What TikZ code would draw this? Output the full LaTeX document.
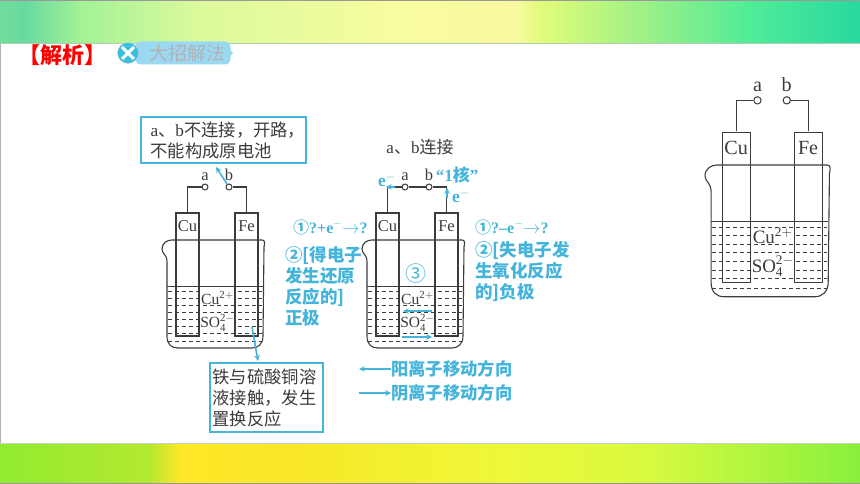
\documentclass[tikz,border=0pt]{standalone}
\usepackage{fontspec}
\setmainfont{Liberation Serif}
\newfontfamily\cjk{Noto Sans CJK SC}
\usetikzlibrary{positioning}
\definecolor{note}{HTML}{45B4DA}
\definecolor{ink}{HTML}{3C3C3C}
\definecolor{badge}{HTML}{9BD9F3}
\definecolor{green1}{HTML}{70DE9A}\definecolor{green2}{HTML}{68D9A0}\definecolor{green3}{HTML}{A4F296}
\definecolor{green4}{HTML}{DCFA9C}\definecolor{green5}{HTML}{F8FCA0}\definecolor{green6}{HTML}{F8F8A0}
\definecolor{green7}{HTML}{E0FC78}\definecolor{green8}{HTML}{98F088}\definecolor{green9}{HTML}{50EC98}
\definecolor{green10}{HTML}{28D8A0}
\definecolor{lime1}{HTML}{90EC30}\definecolor{lime2}{HTML}{B4E830}\definecolor{lime3}{HTML}{FFE828}
\definecolor{lime4}{HTML}{F8E828}\definecolor{lime5}{HTML}{EEF838}\definecolor{lime6}{HTML}{D8FA40}
\definecolor{lime7}{HTML}{88F03C}
\pgfdeclarehorizontalshading{topband}{100bp}{
	color(0bp)=(white); color(25bp)=(green1); color(26.5bp)=(green2); color(29.7bp)=(green3);
	color(36.6bp)=(green4); color(48.3bp)=(green5); color(55bp)=(green6); color(56.5bp)=(green7);
	color(62.8bp)=(green8); color(68.6bp)=(green9); color(75bp)=(green10); color(100bp)=(white)}
\pgfdeclarehorizontalshading{bottomband}{100bp}{
	color(0bp)=(white); color(25bp)=(lime1); color(33.7bp)=(lime2); color(35.5bp)=(lime3);
	color(42.4bp)=(lime4); color(54bp)=(lime5); color(62.8bp)=(lime6); color(75bp)=(lime7); color(100bp)=(white)}
\newcommand{\fullcomma}{\char"FF0C\relax}
\tikzset{
	pics/beaker/.style={code={
		% 液体
		\foreach \y in {51,58,65,72,79,86,93,101}
			\draw[ink,line width=.8pt,dash pattern=on 4pt off 3pt] (6,\y) -- (100,\y);
		\draw[ink,line width=1pt] (5,46) -- (101,46);
		\node[ion] (-cation) at (55.5,58) {$\mathrm{Cu}^{\mathrm{2+}}$};
		\node[ion] (-anion) at (55.5,83) {$\mathrm{SO}_{\mathrm{4}}^{\mathrm{2-}}$};
		% 烧杯
		\draw[ink,line width=1.1pt] (5,22) .. controls (5,14) and (0,14) .. (0,9)
			.. controls (0,3) and (5,0) .. (10,0) -- (100,0)
			.. controls (103,0) and (103,3) .. (102,7) -- (101,96)
			.. controls (101,104) and (96,108) .. (90,108) -- (16,108)
			.. controls (9,108) and (5,104) .. (5,96) -- cycle;
		\node[electrode] (-cu) at (25.5,34.5) {};
		\node[electrode] (-fe) at (84.5,34.5) {};
		\node[metal] (-cutext) [below=7pt of -cu.north] {Cu};
		\node[metal] (-fetext) [below=7pt of -fe.north] {Fe};
		\node[terminal] (-a) at (43,-53) {};
		\node[terminal] (-b) at (67,-53) {};
		\node[metal] (-atext) [above=2pt of -a] {a};
		\node[metal] (-btext) [above=2pt of -b] {b};
		\draw[ink,line width=1.1pt] (-cu.north) |- (-a.west);
		\draw[ink,line width=1.1pt] (-fe.north) |- (-b.east);
	}},
	electrode/.style={rectangle,draw=ink,line width=1.1pt,minimum width=23pt,minimum height=123pt,inner sep=0pt},
	metal/.style={text=ink,font=\fontsize{16.5}{19}\selectfont,inner sep=1pt},
	ion/.style={text=ink,fill=white,font=\fontsize{15.5}{19}\selectfont,inner sep=0pt},
	terminal/.style={circle,draw=ink,line width=1pt,fill=white,minimum size=6pt,inner sep=0pt},
	notebox/.style={rectangle,draw=note,line width=2pt,fill=white,text=ink,align=left,anchor=north west,
		font=\cjk\fontsize{17.3}{21}\selectfont,inner sep=0pt},
	hint/.style={text=note,align=left,font=\cjk\bfseries\fontsize{17.5}{21}\selectfont,inner sep=0pt},
	pointer/.style={->,>=stealth,draw=note,line width=1.6pt},
}

\begin{document}
\begin{tikzpicture}[x=1pt,y=-1pt]
	\useasboundingbox (0,0) rectangle (860,484);
	\fill[white] (0,0) rectangle (860,484);
	% 上下色带
	\shade[shading=topband] (0,0) rectangle (860,43);
	\shade[shading=bottomband] (0,443) rectangle (860,484);
	\draw[gray!80,line width=1pt] (0,.5) -- (860,.5);
	\draw[green!20!gray!50,line width=1pt] (0,43.5) -- (860,43.5);
	\draw[green!20!gray!40,line width=1pt] (0,443) -- (860,443);
	\draw[gray!80,line width=1pt] (0,483.5) -- (860,483.5);
	\draw[gray!60,line width=1pt] (.5,44) -- (.5,443);

	% 标题
	\node[text=red,font=\cjk\bfseries\fontsize{22}{24}\selectfont] (title) at (63,55) {【解析】};
	\fill[badge] (228,48) -- (233,53) -- (228,58) -- cycle;
	\node[rectangle,rounded corners=5pt,fill=badge,minimum width=95pt,minimum height=23pt,inner sep=0pt,
		text=gray!60,font=\cjk\fontsize{19}{21}\selectfont] (method) at (183,53) {\hspace*{8pt}大招解法};
	\node[circle,fill=note!85!cyan,draw=gray!40,minimum size=21pt,inner sep=0pt] (badgeicon) at (128,53) {};
	\draw[white,line width=3pt] ([shift={(-6,-6)}]badgeicon.center) -- ([shift={(6,6)}]badgeicon.center);
	\draw[white,line width=3pt] ([shift={(-6,6)}]badgeicon.center) -- ([shift={(6,-6)}]badgeicon.center);

	% 三个烧杯
	\pic (left) at (162,240) {beaker};
	\pic (mid) at (362,240) {beaker};
	\pic[scale=1.22,transform shape] (ref) at (705,165) {beaker};
	\draw[ink,line width=1.1pt] (mid-a) -- (mid-b);

	% 左
	\node[notebox,minimum width=165pt,minimum height=46pt,text width=146pt,inner xsep=9.5pt] (open) at (140,116)
		{\textrm{a}、\textrm{b}不连接\fullcomma 开路\fullcomma\\不能构成原电池};
	\node[notebox,minimum width=113pt,minimum height=69pt,text width=108pt,inner xsep=2.5pt] (replace) at (209,362)
		{铁与硫酸铜溶\\液接触\fullcomma 发生\\置换反应};
	\coordinate (switchtip) at (216,167);
	\coordinate (fepoint) at (252,327);
	\coordinate (replacetip) at (258,361);
	\draw[pointer] (left-b) -- (switchtip);
	\draw[pointer] (fepoint) -- (replacetip);
	\node[hint,anchor=west,font=\cjk\bfseries\fontsize{16}{21}\selectfont] (lefteq) at (293,227) {①\textrm{?+e$^-$}$\rightarrow$\textrm{?}};
	\node[hint,anchor=north west] (lefttext) at (285,246) {②[得电子\\发生还原\\反应的]\\正极};

	% 中
	\node[text=ink,font=\cjk\fontsize{17}{21}\selectfont,inner sep=0pt] (joined) at (420,147) {\textrm{a}、\textrm{b}连接};
	\node[hint,font=\cjk\bfseries\fontsize{17}{21}\selectfont] (core) at (457,175) {\textrm{“1}核\textrm{”}};
	\node[hint] (eleft) at (387,180) {\textrm{e$^-$}};
	\node[hint] (eright) at (461,196) {\textrm{e$^-$}};
	\node[hint,font=\cjk\fontsize{21}{24}\selectfont] (three) at (416,274) {③};
	\coordinate (eleftend) at (395,187);
	\coordinate (elefttip) at (386,187);
	\coordinate (erightend) at (447,198);
	\coordinate (erighttip) at (447,188);
	\coordinate (catend) at (432,311);
	\coordinate (cattip) at (403,311);
	\coordinate (anend) at (402,337);
	\coordinate (antip) at (432,337);
	\draw[pointer] (eleftend) -- (elefttip);
	\draw[pointer] (erightend) -- (erighttip);
	\draw[pointer] (catend) -- (cattip);
	\draw[pointer] (anend) -- (antip);

	% 右
	\node[hint,anchor=west,font=\cjk\bfseries\fontsize{16}{21}\selectfont] (righteq) at (475,227) {①\textrm{?--e$^-$}$\rightarrow$\textrm{?}};
	\node[hint,anchor=north west] (righttext) at (475,241) {②[失电子发\\生氧化反应\\的]负极};

	% 图例
	\node[hint,anchor=west,font=\cjk\fontsize{17.3}{21}\selectfont\bfseries] (cation) at (391,369) {阳离子移动方向};
	\node[hint,anchor=west,font=\cjk\fontsize{17.3}{21}\selectfont\bfseries] (anion) at (391,393) {阴离子移动方向};
	\coordinate (cationtip) at (359,369);
	\coordinate (aniontail) at (359,393);
	\draw[pointer] (cation.west) -- (cationtip);
	\draw[pointer] (aniontail) -- (anion.west);
\end{tikzpicture}
\end{document}
